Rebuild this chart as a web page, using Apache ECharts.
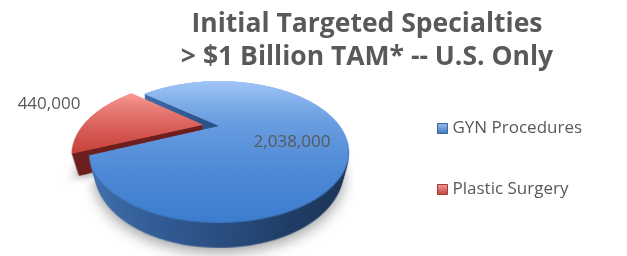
<!DOCTYPE html>
<html>
<head>
<meta charset="utf-8">
<script src="https://cdn.jsdelivr.net/npm/echarts@6/dist/echarts.min.js"></script>
<style>
  html, body { margin: 0; padding: 0; background: #ffffff; }
  #wrap { position: relative; width: 627px; height: 256px; overflow: hidden; }
  .layer { position: absolute; }
  #main { position: absolute; left: 0; top: 0; width: 627px; height: 256px; }
</style>
</head>
<body>
<div id="wrap"></div>
<script>
// ---- data ----
const categories = ['GYN Procedures', 'Plastic Surgery'];
const values = [2038000, 440000];
const explodedIndex = 1;
const titleLines = ['Initial Targeted Specialties', '> $1 Billion TAM* -- U.S. Only'];

// ---- geometry / style (not data) ----
const R = 121;            // pie radius in its own (tilted) plane
const S = 300;            // size of each layer canvas
const CX = 219, CY = 126; // screen position of the pie centre
const TILT = 59.4;        // degrees
const PERSP = 286;        // px
const DEPTH = 24.7;       // thickness of the pie
const NLAYERS = 20;
const START = 140;

const lin = (x1, y1, x2, y2, stops) => ({
  type: 'linear', x: x1, y: y1, x2: x2, y2: y2,
  colorStops: stops.map(s => ({ offset: s[0], color: s[1] }))
});

const topStyle = [
  { color: lin(0, 0, 0, 1, [[0, '#a3c7f8'], [0.45, '#6c9fe2'], [1, '#3d7dcf']]), borderWidth: 0 },
  { color: lin(0, 0, 0, 1, [[0, '#f89a93'], [1, '#c8413a']]), borderWidth: 0 }
];
const sideStyle = [
  { color: lin(0, 0, 1, 0, [[0, '#4373b0'], [0.35, '#2f5890'], [0.7, '#1f3c64'], [1, '#1b3253']]), borderWidth: 0 },
  { color: '#6c1f1c', borderWidth: 0 }
];

const wrap = document.getElementById('wrap');

function pieOption(isTop, isBottom) {
  return {
    backgroundColor: 'transparent',
    animation: false,
    series: [{
      type: 'pie',
      radius: [0, R],
      center: [S / 2, S / 2],
      startAngle: START,
      clockwise: true,
      selectedMode: 'single',
      selectedOffset: 16,
      animation: false,
      silent: true,
      label: { show: false },
      labelLine: { show: false },
      emphasis: { disabled: true },
      data: categories.map((n, i) => {
        const st = Object.assign({}, isTop ? topStyle[i] : sideStyle[i]);
        if (isBottom) {
          st.shadowBlur = 10;
          st.shadowColor = 'rgba(0,0,0,0.35)';
          st.shadowOffsetY = 4;
        }
        return { name: n, value: values[i], selected: i === explodedIndex, itemStyle: st };
      })
    }]
  };
}

for (let k = NLAYERS; k >= 0; k--) {
  const h = DEPTH * k / NLAYERS;
  const d = document.createElement('div');
  d.className = 'layer';
  d.style.left = (CX - S / 2) + 'px';
  d.style.top = (CY - S / 2) + 'px';
  d.style.width = S + 'px';
  d.style.height = S + 'px';
  d.style.transformOrigin = (S / 2) + 'px ' + (S / 2) + 'px';
  d.style.transform = 'perspective(' + PERSP + 'px) rotateX(' + TILT + 'deg) translateZ(' + (-h) + 'px)';
  wrap.appendChild(d);
  const c = echarts.init(d, null, { renderer: 'canvas', devicePixelRatio: 2 });
  c.setOption(pieOption(k === 0, k === NLAYERS));
}

const mainDom = document.createElement('div');
mainDom.id = 'main';
wrap.appendChild(mainDom);

// ---- overlay: title, legend, value labels ----
const legendColors = [
  { color: lin(0, 0, 0, 1, [[0, '#9cc0f0'], [1, '#3e74bb']]), borderColor: '#3a66a0', borderWidth: 1 },
  { color: lin(0, 0, 0, 1, [[0, '#f2a09b'], [1, '#c0403a']]), borderColor: '#a33a35', borderWidth: 1 }
];
const labelPos = [[292, 142], [49, 104]];

const main = echarts.init(mainDom, null, { renderer: 'canvas' });
main.setOption({
  backgroundColor: 'transparent',
  animation: false,
  title: {
    text: titleLines.join('\n'),
    left: 362,
    top: 3,
    textAlign: 'center',
    textStyle: {
      fontFamily: 'Open Sans',
      fontWeight: 'bold',
      fontSize: 26.5,
      lineHeight: 33,
      color: '#595959'
    }
  },
  legend: {
    orient: 'vertical',
    left: 432,
    top: 115,
    itemWidth: 10,
    itemHeight: 10,
    itemGap: 44,
    icon: 'rect',
    selectedMode: false,
    textStyle: { fontFamily: 'Open Sans', fontSize: 17, color: '#595959' },
    data: categories.map((n, i) => ({ name: n, itemStyle: legendColors[i] }))
  },
  series: [{
    type: 'pie',
    radius: [0, R],
    center: [CX, CY],
    startAngle: START,
    silent: true,
    animation: false,
    itemStyle: { color: 'rgba(0,0,0,0)', borderWidth: 0 },
    emphasis: { disabled: true },
    labelLine: { show: false },
    label: {
      show: true,
      position: 'inside',
      fontFamily: 'Open Sans',
      fontSize: 17,
      color: '#595959',
      formatter: p => p.value.toLocaleString('en-US')
    },
    labelLayout: p => ({
      x: labelPos[p.dataIndex][0],
      y: labelPos[p.dataIndex][1],
      align: 'center',
      verticalAlign: 'middle'
    }),
    data: categories.map((n, i) => ({ name: n, value: values[i] }))
  }]
});
</script>
</body>
</html>
